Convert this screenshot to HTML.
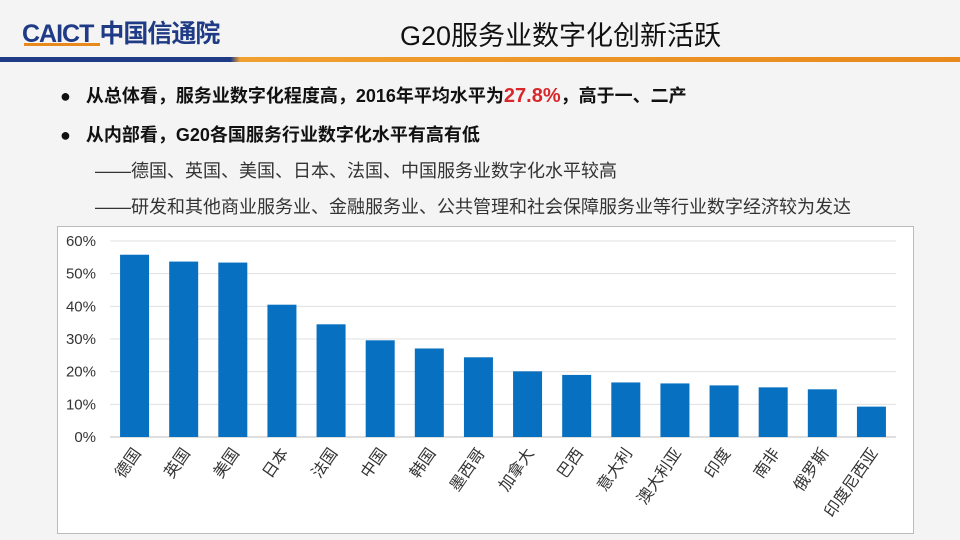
<!DOCTYPE html>
<html><head><meta charset="utf-8"><style>
body{margin:0;width:960px;height:540px;overflow:hidden;background:#f4f4f4;font-family:"Liberation Sans","Noto Sans CJK SC",sans-serif;position:relative}
.abs{position:absolute}
</style></head><body>
<div class="abs" style="left:22px;top:14px;font-size:25px;font-weight:bold;color:#1f3b86;letter-spacing:-1px">CAICT <span style="font-family:'Noto Sans CJK SC',sans-serif">中国信通院</span></div>
<div class="abs" style="left:24px;top:43px;width:76px;height:3px;background:#e8891c"></div>
<div class="abs" style="left:400px;top:14px;font-size:27px;color:#111">G20服务业数字化创新活跃</div>
<div class="abs" style="left:0;top:57px;width:960px;height:5px;background:linear-gradient(90deg,#1f3b86 0,#1f3b86 24%,#f0a030 25%,#e8891c 100%)"></div>
<div class="abs" style="left:60px;top:82px;font-size:18px;font-weight:bold;color:#111">●&nbsp;&nbsp;&nbsp;从总体看，服务业数字化程度高，2016年平均水平为<span style="color:#d9262b;font-size:20px">27.8%</span>，高于一、二产</div>
<div class="abs" style="left:60px;top:121px;font-size:18px;font-weight:bold;color:#111">●&nbsp;&nbsp;&nbsp;从内部看，G20各国服务行业数字化水平有高有低</div>
<div class="abs" style="left:95px;top:157px;font-size:18px;color:#333">——德国、英国、美国、日本、法国、中国服务业数字化水平较高</div>
<div class="abs" style="left:95px;top:193px;font-size:18px;color:#333">——研发和其他商业服务业、金融服务业、公共管理和社会保障服务业等行业数字经济较为发达</div>
<div class="abs" style="left:57px;top:226px;width:855px;height:306px;background:#fff;border:1px solid #bbb"></div>
<svg class="abs" style="left:0;top:0" width="960" height="540">
<g id="g"></g></svg>
<script>
const categories=["德国","英国","美国","日本","法国","中国","韩国","墨西哥","加拿大","巴西","意大利","澳大利亚","印度","南非","俄罗斯","印度尼西亚"];
const values=[55.8,53.7,53.4,40.5,34.5,29.6,27.1,24.4,20.1,19.0,16.7,16.4,15.8,15.2,14.6,9.3];
const ticks=[0,10,20,30,40,50,60];
const tickLabels=["0%","10%","20%","30%","40%","50%","60%"];
const X0=110,X1=896,Y0=437,Y1=241,VMAX=60;
const y=v=>Y0-(v/VMAX)*(Y0-Y1);
const step=(X1-X0)/categories.length;
const x=i=>X0+step*(i+0.5);
const g=document.getElementById('g');const NS='http://www.w3.org/2000/svg';
function mk(t,a){const e=document.createElementNS(NS,t);for(const k in a)e.setAttribute(k,a[k]);g.appendChild(e);return e;}
ticks.forEach((t,i)=>{
 const l=mk('line',{x1:X0,x2:X1,y1:y(t),y2:y(t),stroke:i==0?'#bfbfbf':'#e0e0e0','stroke-width':1});
 
 
 const tx=mk('text',{x:96,y:y(t)+5,'text-anchor':'end','font-size':15,fill:'#333'});tx.textContent=tickLabels[i];
 
 
});
values.forEach((v,i)=>{
 const r=mk('rect',{x:x(i)-14.5,y:y(v),width:29,height:Y0-y(v),fill:'#0870c0'});
 
 
 const tx=mk('text',{x:x(i)+7,y:453,'text-anchor':'end','font-size':16,fill:'#333',transform:`rotate(-55 ${x(i)+7} 453)`});
 tx.textContent=categories[i];
 
 
});
</script>
</body></html>
